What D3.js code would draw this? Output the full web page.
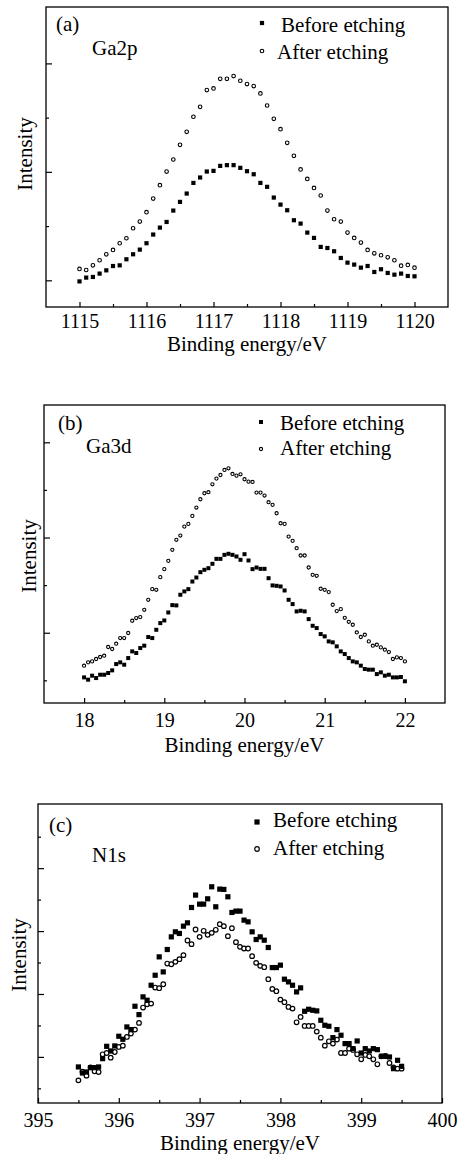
<!DOCTYPE html>
<html>
<head>
<meta charset="utf-8">
<script src="https://cdn.jsdelivr.net/npm/d3@7"></script>
<style>
  html, body { margin: 0; padding: 0; background: #fff; }
  svg { display: block; }
  text { font-family: "Liberation Serif", "Times New Roman", serif; fill: #000; }
</style>
</head>
<body>
<script>
// ---------------- DATA ----------------
// Panel (a) Ga2p
const energyA = [1115.0,1115.1,1115.2,1115.3,1115.4,1115.5,1115.6,1115.7,1115.8,1115.9,
  1116.0,1116.1,1116.2,1116.3,1116.4,1116.5,1116.6,1116.7,1116.8,1116.9,
  1117.0,1117.1,1117.2,1117.3,1117.4,1117.5,1117.6,1117.7,1117.8,1117.9,
  1118.0,1118.1,1118.2,1118.3,1118.4,1118.5,1118.6,1118.7,1118.8,1118.9,
  1119.0,1119.1,1119.2,1119.3,1119.4,1119.5,1119.6,1119.7,1119.8,1119.9,1120.0];
const beforeA = [-1,2.5,3.1,6.2,9.2,13.2,13.8,19.4,24,28.3,34.2,42.2,48.6,53.8,64.3,72.3,80,89.8,94.8,100.3,
  100.9,105.5,106.2,106.2,103.7,100.6,97.8,89.8,86.2,76.3,69.8,64.6,55.4,52.3,44,39.1,30.8,29.8,26.8,20.6,
  16.3,14.5,11.7,13.2,7.7,10.2,6.8,5.2,6.2,4,3.7];
const afterA = [10.5,9.5,13.8,18.5,24,28,34.2,38.8,48,54.2,62.8,75.4,87.7,100.3,111.4,124.9,136.9,150.8,160,175.4,
  176.9,185.8,185.8,188.3,184,180.9,179.1,172.3,161.2,148.9,139.4,126.8,114.8,102.2,93.5,85.2,78.2,64.3,56.3,54.2,
  44,39.1,34.8,28,24.9,23.1,21.2,18.5,13.5,14.2,11.7];
const xTicksA = [1115,1116,1117,1118,1119,1120];
const xMinorA = [1115.5,1116.5,1117.5,1118.5,1119.5];
const yMajorA = [0,100,200];
const yMinorA = [50,150];

// Panel (b) Ga3d
const energyB = [18.00,18.05,18.10,18.15,18.20,18.25,18.30,18.35,18.40,18.45,18.50,18.55,18.60,18.65,18.70,18.75,18.80,18.85,18.90,18.95,
  19.00,19.05,19.10,19.15,19.20,19.25,19.30,19.35,19.40,19.45,19.50,19.55,19.60,19.65,19.70,19.75,19.80,19.85,19.90,19.95,
  20.00,20.05,20.10,20.15,20.20,20.25,20.30,20.35,20.40,20.45,20.50,20.55,20.60,20.65,20.70,20.75,20.80,20.85,20.90,20.95,
  21.00,21.05,21.10,21.15,21.20,21.25,21.30,21.35,21.40,21.45,21.50,21.55,21.60,21.65,21.70,21.75,21.80,21.85,21.90,21.95,22.00];
const beforeB = [3.1,0.7,4.9,2.4,5.9,5.9,7.7,10.5,17.1,18.9,16.4,23.4,30.4,28.7,33.9,36.4,45.5,44.4,53.1,60.1,
  62.9,71.3,79.0,78.7,89.9,93.4,95.8,103.8,108.0,113.6,116.1,117.8,122.4,127.6,127.6,131.8,132.9,131.8,130.1,126.6,
  132.5,125.9,116.8,118.5,117.1,117.1,107.3,99.7,99.3,98.6,94.4,84.6,80.1,72.4,73.1,72.4,64.3,57.3,54.9,48.6,
  46.2,40.9,39.9,35.7,30.4,27.6,23.4,19.9,18.9,15.4,11.9,11.2,11.2,6.6,8.4,4.9,5.9,3.1,3.1,3.5,-1.0];
const afterB = [15.4,18.9,19.9,22.4,24.5,25.9,35.0,32.9,38.5,44.4,44.4,49.7,62.6,65.4,66.4,74.1,84.6,95.8,95.1,108.4,
  116.8,125.5,137.1,147.6,152.1,161.5,164.3,172.7,181.5,190.2,196.5,197.6,205.9,211.9,215.7,221.0,222.7,216.8,215.0,216.4,
  211.2,208.7,208.4,197.2,197.2,194.1,187.1,184.3,175.5,165.0,164.3,151.0,146.5,138.8,131.1,131.1,118.5,110.8,109.8,96.2,
  95.1,92.7,79.4,72.7,74.8,65.7,61.5,58.4,50.3,45.5,47.9,40.9,36.4,37.4,34.6,32.2,29.7,22.4,24.1,23.4,19.9];
const xTicksB = [18,19,20,21,22];
const xMinorB = [18.5,19.5,20.5,21.5];
const yMajorB = [50,150,250];
const yMinorB = [0,100,200];

// Panel (c) N1s
const energyC = [395.50,395.55,395.60,395.65,395.70,395.75,395.80,395.85,395.90,395.95,396.00,396.05,396.10,396.15,396.20,396.25,396.30,396.35,396.40,396.45,
  396.50,396.55,396.60,396.65,396.70,396.75,396.80,396.85,396.90,396.95,397.00,397.05,397.10,397.15,397.20,397.25,397.30,397.35,397.40,397.45,
  397.50,397.55,397.60,397.65,397.70,397.75,397.80,397.85,397.90,397.95,398.00,398.05,398.10,398.15,398.20,398.25,398.30,398.35,398.40,398.45,
  398.50,398.55,398.60,398.65,398.70,398.75,398.80,398.85,398.90,398.95,399.00,399.05,399.10,399.15,399.20,399.25,399.30,399.35,399.40,399.45,399.50];
const beforeC = [34.0,24.4,26.0,32.9,32.9,34.0,47.2,66.8,59.4,67.4,82.8,78.0,97.6,93.4,130.5,117.2,145.4,140.1,163.9,179.8,
  209.0,185.1,220.7,240.8,248.8,246.2,257.8,263.1,287.5,307.2,292.8,292.8,301.3,320.4,288.6,316.7,316.2,304.5,279.6,281.7,
  281.7,267.4,264.7,248.8,236.6,240.8,235.5,223.9,192.0,192.0,195.8,173.5,169.2,163.9,153.3,159.7,122.5,125.7,124.1,123.1,
  108.2,100.3,98.7,80.6,93.4,84.4,71.1,71.1,63.1,75.3,56.2,63.1,59.4,63.1,61.5,50.9,50.9,49.9,31.3,44.6,35.0];
const afterC = [12.7,26.5,20.2,33.4,27.1,26.0,54.1,56.2,48.8,57.8,65.8,67.9,81.7,87.0,93.4,104.0,128.4,133.7,134.7,160.2,
  159.2,165.5,198.4,197.3,201.1,205.3,211.7,235.0,229.2,252.5,240.8,250.4,244.0,247.2,252.0,261.0,257.8,241.9,254.6,232.4,
  224.9,222.3,222.3,210.1,199.5,194.7,192.6,173.5,158.1,154.4,141.1,136.9,129.4,126.8,105.0,113.5,99.2,99.2,99.2,90.2,
  80.6,67.9,74.8,71.1,77.5,56.2,56.2,63.1,61.0,54.1,46.2,53.1,50.9,46.2,38.2,50.9,51.5,40.3,33.4,31.3,31.3];
const xTicksC = [395,396,397,398,399,400];
const xMinorC = [395.5,396.5,397.5,398.5,399.5];
const yMajorC = [50,150,250,350];
const yMinorC = [0,100,200,300,400];

const legendLabels = ["Before etching", "After etching"];
const xTitle = "Binding energy/eV";
const yTitle = "Intensity";

// ---------------- DRAW ----------------
const W = 463, H = 1154;
const svg = d3.select("body").append("svg").attr("width", W).attr("height", H);

function drawPanel(cfg) {
  const x = d3.scaleLinear().domain(cfg.xDomain).range([cfg.left, cfg.right]);
  const y = d3.scaleLinear().domain(cfg.yDomain).range([cfg.bottom, cfg.top]);
  const g = svg.append("g");

  // x major ticks with labels
  const xa = g.append("g").attr("transform", `translate(0,${cfg.bottom})`)
    .call(d3.axisBottom(x).tickValues(cfg.xTicks).tickSize(-5).tickFormat(d3.format("d")));
  xa.select(".domain").remove();
  xa.selectAll("line").attr("stroke", "#000").attr("stroke-width", 1.2);
  xa.selectAll("text").attr("y", cfg.labelOff).attr("dy", 0)
    .style("font-size", "20px").attr("fill", "#000");
  // x minor ticks
  const xm = g.append("g").attr("transform", `translate(0,${cfg.bottom})`)
    .call(d3.axisBottom(x).tickValues(cfg.xMinor).tickSize(-3).tickFormat(""));
  xm.select(".domain").remove();
  xm.selectAll("line").attr("stroke", "#000").attr("stroke-width", 1.2);

  // y ticks (no labels)
  const ya = g.append("g").attr("transform", `translate(${cfg.left},0)`)
    .call(d3.axisLeft(y).tickValues(cfg.yMajor).tickSize(-6).tickFormat(""));
  ya.select(".domain").remove();
  ya.selectAll("line").attr("stroke", "#000").attr("stroke-width", 1.2);
  const ym = g.append("g").attr("transform", `translate(${cfg.left},0)`)
    .call(d3.axisLeft(y).tickValues(cfg.yMinor).tickSize(-3).tickFormat(""));
  ym.select(".domain").remove();
  ym.selectAll("line").attr("stroke", "#000").attr("stroke-width", 1.2);

  // frame
  g.append("rect")
    .attr("x", cfg.left).attr("y", cfg.top)
    .attr("width", cfg.right - cfg.left).attr("height", cfg.bottom - cfg.top)
    .attr("fill", "none").attr("stroke", "#000").attr("stroke-width", 1.3);

  // data: after (open circles)
  const pa = cfg.energy.map((e, i) => ({ e, v: cfg.after[i] }));
  g.append("g").selectAll("circle").data(pa).join("circle")
    .attr("cx", d => x(d.e)).attr("cy", d => y(d.v)).attr("r", cfg.cr)
    .attr("fill", "#fff").attr("stroke", "#000").attr("stroke-width", cfg.cw);
  // data: before (filled squares)
  const pb = cfg.energy.map((e, i) => ({ e, v: cfg.before[i] }));
  g.append("g").selectAll("rect").data(pb).join("rect")
    .attr("x", d => x(d.e) - cfg.sq / 2).attr("y", d => y(d.v) - cfg.sq / 2)
    .attr("width", cfg.sq).attr("height", cfg.sq).attr("fill", "#000");

  // panel label and element
  g.append("text").attr("x", cfg.tagX).attr("y", cfg.tagY).style("font-size", "21px").text(cfg.tag);
  g.append("text").attr("x", cfg.elX).attr("y", cfg.elY).style("font-size", "21px").text(cfg.el);

  // legend
  g.append("rect").attr("x", cfg.legMX - cfg.sq / 2).attr("y", cfg.leg1Y - cfg.sq / 2)
    .attr("width", cfg.sq).attr("height", cfg.sq).attr("fill", "#000");
  g.append("text").attr("x", cfg.leg1TX).attr("y", cfg.leg1TY).style("font-size", "21px").text(legendLabels[0]);
  g.append("circle").attr("cx", cfg.legMX).attr("cy", cfg.leg2Y).attr("r", cfg.cr)
    .attr("fill", "#fff").attr("stroke", "#000").attr("stroke-width", cfg.cw);
  g.append("text").attr("x", cfg.leg2TX).attr("y", cfg.leg2TY).style("font-size", "21px").text(legendLabels[1]);

  // axis titles
  g.append("text").attr("x", (cfg.left + cfg.right) / 2).attr("y", cfg.xTitleY)
    .attr("text-anchor", "middle").style("font-size", "21px").text(xTitle);
  g.append("text").attr("transform", `translate(${cfg.yTitleX},${cfg.yTitleY}) rotate(-90)`)
    .attr("text-anchor", "middle").style("font-size", "21px").text(yTitle);
}

drawPanel({
  energy: energyA, before: beforeA, after: afterA,
  xTicks: xTicksA, xMinor: xMinorA, yMajor: yMajorA, yMinor: yMinorA,
  xDomain: [1114.5, 1120.5], yDomain: [-24.6, 252],
  left: 46, right: 448, top: 7, bottom: 307, labelOff: 21,
  sq: 4.2, cr: 1.8, cw: 1.1,
  tag: "(a)", tagX: 56, tagY: 31, el: "Ga2p", elX: 92, elY: 55,
  legMX: 262, leg1Y: 23, leg1TX: 281, leg1TY: 32, leg2Y: 51, leg2TX: 277, leg2TY: 59,
  xTitleY: 351, yTitleX: 32, yTitleY: 154
});

drawPanel({
  energy: energyB, before: beforeB, after: afterB,
  xTicks: xTicksB, xMinor: xMinorB, yMajor: yMajorB, yMinor: yMinorB,
  xDomain: [17.5, 22.5], yDomain: [-23.8, 289.2],
  left: 44, right: 445, top: 405, bottom: 703, labelOff: 24,
  sq: 4, cr: 1.6, cw: 1.1,
  tag: "(b)", tagX: 58, tagY: 430, el: "Ga3d", elX: 86, elY: 453,
  legMX: 261, leg1Y: 422, leg1TX: 280, leg1TY: 430, leg2Y: 449, leg2TX: 280, leg2TY: 455,
  xTitleY: 752, yTitleX: 36, yTitleY: 556
});

drawPanel({
  energy: energyC, before: beforeC, after: afterC,
  xTicks: xTicksC, xMinor: xMinorC, yMajor: yMajorC, yMinor: yMinorC,
  xDomain: [395, 400], yDomain: [-23.3, 452],
  left: 38, right: 442, top: 804, bottom: 1103, labelOff: 24,
  sq: 5.2, cr: 2.3, cw: 1.2,
  tag: "(c)", tagX: 49, tagY: 832, el: "N1s", elX: 92, elY: 862,
  legMX: 257, leg1Y: 822, leg1TX: 273, leg1TY: 827, leg2Y: 849, leg2TX: 273, leg2TY: 855,
  xTitleY: 1150, yTitleX: 26, yTitleY: 955
});
</script>
</body>
</html>
